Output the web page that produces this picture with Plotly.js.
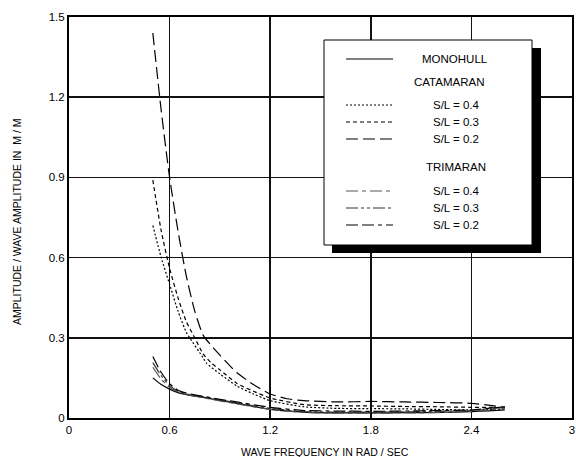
<!DOCTYPE html>
<html><head><meta charset="utf-8">
<script src="https://cdn.plot.ly/plotly-3.0.1.min.js"></script>
<style>body{margin:0;background:#fff}#c{width:576px;height:457px}</style>
</head><body><div id="c"></div>
<script>
// Data
var monoX = [0.5,0.55,0.6,0.65,0.7,0.8,0.9,1.0,1.1,1.2,1.4,1.6,1.8,2.0,2.2,2.4,2.5,2.6];
var monoY = [0.15,0.125,0.108,0.095,0.087,0.077,0.066,0.055,0.043,0.032,0.022,0.019,0.019,0.02,0.021,0.024,0.027,0.03];

var cat04X = [0.5,0.55,0.6,0.65,0.7,0.72,0.8,0.82,0.9,1.0,1.1,1.2,1.4,1.6,1.8,2.0,2.2,2.4,2.5,2.6];
var cat04Y = [0.72,0.60,0.50,0.40,0.32,0.30,0.225,0.205,0.165,0.12,0.09,0.065,0.042,0.036,0.035,0.034,0.032,0.03,0.032,0.033];
var cat03X = [0.5,0.55,0.6,0.65,0.7,0.75,0.8,0.85,0.9,1.0,1.1,1.2,1.4,1.6,1.8,2.0,2.2,2.4,2.5,2.6];
var cat03Y = [0.89,0.70,0.56,0.45,0.36,0.30,0.24,0.205,0.18,0.13,0.10,0.075,0.05,0.046,0.045,0.043,0.042,0.04,0.04,0.038];
var cat02X = [0.5,0.55,0.6,0.65,0.7,0.75,0.8,0.85,0.9,1.0,1.1,1.2,1.3,1.4,1.6,1.8,2.0,2.2,2.4,2.5,2.6];
var cat02Y = [1.44,1.15,0.90,0.70,0.53,0.40,0.31,0.27,0.235,0.17,0.125,0.09,0.072,0.065,0.06,0.062,0.06,0.058,0.055,0.048,0.04];

var tri04X = [0.5,0.55,0.6,0.65,0.7,0.8,0.9,1.0,1.2,1.4,1.6,1.8,2.0,2.2,2.4,2.5,2.6];
var tri04Y = [0.19,0.145,0.115,0.097,0.088,0.076,0.064,0.053,0.032,0.021,0.018,0.018,0.019,0.02,0.025,0.03,0.035];
var tri03X = [0.5,0.55,0.6,0.65,0.7,0.8,0.9,1.0,1.2,1.4,1.6,1.8,2.0,2.2,2.4,2.5,2.6];
var tri03Y = [0.207,0.158,0.122,0.1,0.09,0.079,0.068,0.057,0.036,0.024,0.022,0.022,0.023,0.025,0.028,0.035,0.04];
var tri02X = [0.5,0.55,0.6,0.65,0.7,0.8,0.9,1.0,1.2,1.4,1.6,1.8,2.0,2.2,2.4,2.5,2.6];
var tri02Y = [0.23,0.17,0.128,0.104,0.093,0.081,0.07,0.06,0.04,0.028,0.026,0.025,0.026,0.028,0.03,0.036,0.042];

var xTicks = [0,0.6,1.2,1.8,2.4,3];
var xTickText = ['0','0.6','1.2','1.8','2.4','3'];
var yTicks = [0,0.3,0.6,0.9,1.2,1.5];
var yTickText = ['0','0.3','0.6','0.9','1.2','1.5'];

var styles = {
  mono:  {color:'#000', dash:'solid'},
  cat04: {color:'#000', dash:'2px,2px'},
  cat03: {color:'#000', dash:'4px,3px'},
  cat02: {color:'#000', dash:'12px,5px'},
  tri04: {color:'#555', dash:'12px,4px,4px,4px'},
  tri03: {color:'#333', dash:'12px,3px,3px,3px,3px,3px'},
  tri02: {color:'#000', dash:'12px,4px,12px,4px,4px,4px'}
};
function tr(x,y,s){return {x:x,y:y,mode:'lines',type:'scatter',line:{color:s.color,dash:s.dash,width:1.2,shape:'spline',smoothing:0.6},hoverinfo:'skip',showlegend:false};}
var data = [tr(monoX,monoY,styles.mono),tr(cat04X,cat04Y,styles.cat04),tr(cat03X,cat03Y,styles.cat03),tr(cat02X,cat02Y,styles.cat02),
  tr(tri04X,tri04Y,styles.tri04),tr(tri03X,tri03Y,styles.tri03),tr(tri02X,tri02Y,styles.tri02)];

// legend geometry (pixels -> paper)
var L=69,R=572,T=17,B=418;
function px(v){return (v-L)/(R-L);} function py(v){return (B-v)/(B-T);}
var shapes = [
  {type:'rect',xref:'paper',yref:'paper',x0:px(332),x1:px(541),y0:py(253),y1:py(48),fillcolor:'#000',line:{width:0},layer:'above'},
  {type:'rect',xref:'paper',yref:'paper',x0:px(324),x1:px(532),y0:py(245),y1:py(40),fillcolor:'#fff',line:{color:'#000',width:1},layer:'above'}
];
var ann = [];
var legendRows = [
  {y:59, s:styles.mono, t:'MONOHULL', tx:455},
  {y:82, s:null, t:'CATAMARAN', tx:449},
  {y:105, s:styles.cat04, t:'S/L = 0.4', tx:456},
  {y:122, s:styles.cat03, t:'S/L = 0.3', tx:456},
  {y:139, s:styles.cat02, t:'S/L = 0.2', tx:456},
  {y:167, s:null, t:'TRIMARAN', tx:456},
  {y:191, s:styles.tri04, t:'S/L = 0.4', tx:456},
  {y:208, s:styles.tri03, t:'S/L = 0.3', tx:456},
  {y:225, s:styles.tri02, t:'S/L = 0.2', tx:456}
];
legendRows.forEach(function(r){
  if(r.s){shapes.push({type:'line',xref:'paper',yref:'paper',x0:px(346),x1:px(393),y0:py(r.y),y1:py(r.y),line:{color:r.s.color,dash:r.s.dash,width:1.2},layer:'above'});}
  ann.push({xref:'paper',yref:'paper',x:px(r.tx),y:py(r.y),text:r.t,showarrow:false,xanchor:'center',yanchor:'middle',font:{family:'Liberation Sans, Arial',size:11.5,color:'#000'}});
});
// axis titles
ann.push({xref:'paper',yref:'paper',x:px(325),y:py(452),text:'WAVE FREQUENCY IN RAD / SEC',showarrow:false,xanchor:'center',yanchor:'middle',font:{family:'Liberation Sans, Arial',size:10.5,color:'#000'}});
ann.push({xref:'paper',yref:'paper',x:px(17),y:py(222),text:'AMPLITUDE / WAVE AMPLITUDE IN  M / M',textangle:-90,showarrow:false,xanchor:'center',yanchor:'middle',font:{family:'Liberation Sans, Arial',size:10.5,color:'#000'}});

var axisFont = {family:'Liberation Sans, Arial',size:11.5,color:'#000'};
var layout = {
  width:576,height:457,margin:{l:69,r:4,t:17,b:39},
  paper_bgcolor:'#fff',plot_bgcolor:'#fff',showlegend:false,
  xaxis:{range:[0,3],tickvals:xTicks,ticktext:xTickText,showgrid:true,gridcolor:'#111',gridwidth:1.5,zeroline:false,
    showline:true,linecolor:'#000',linewidth:2,mirror:true,ticks:'',tickfont:axisFont},
  yaxis:{range:[0,1.5],tickvals:yTicks,ticktext:yTickText,showgrid:true,gridcolor:'#111',gridwidth:1.5,zeroline:false,
    showline:true,linecolor:'#000',linewidth:2,mirror:true,ticks:'',tickfont:axisFont},
  shapes:shapes,annotations:ann
};
Plotly.newPlot('c',data,layout,{displayModeBar:false,staticPlot:true});
</script></body></html>
